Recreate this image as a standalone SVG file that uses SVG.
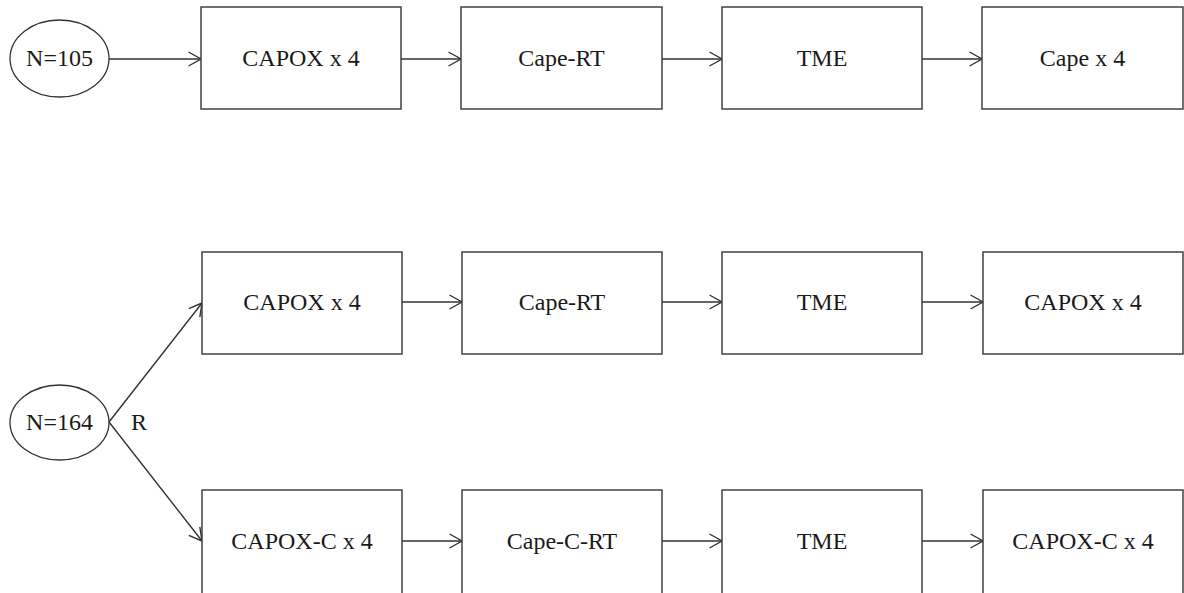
<svg xmlns="http://www.w3.org/2000/svg" width="1184" height="593" viewBox="0 0 1184 593">
<style>
.box{fill:#fff;stroke:#404040;stroke-width:1.5}
.ell{fill:#fff;stroke:#333;stroke-width:1.3}
.t{font-family:"Liberation Serif","Times New Roman",serif;font-size:24px;fill:#1a1a1a;text-anchor:middle}
.c{stroke:#333;stroke-width:1.4;fill:none;marker-end:url(#ah)}
</style>
<defs>
<marker id="ah" markerUnits="userSpaceOnUse" viewBox="0 0 14 16" refX="13" refY="8" markerWidth="14" markerHeight="16" orient="auto">
<path d="M0.5,1 L13,8 L0.5,15" fill="none" stroke="#333" stroke-width="1.4"/>
</marker>
</defs>
<rect width="1184" height="593" fill="#fff"/>
<g id="connectors">
<line class="c" x1="109" y1="59" x2="201" y2="59"/>
<line class="c" x1="401" y1="59" x2="461" y2="59"/>
<line class="c" x1="662" y1="59" x2="722" y2="59"/>
<line class="c" x1="922" y1="59" x2="982" y2="59"/>
<line class="c" x1="109" y1="422" x2="202" y2="303"/>
<line class="c" x1="109" y1="422" x2="202" y2="541"/>
<line class="c" x1="402" y1="302" x2="462" y2="302"/>
<line class="c" x1="662" y1="302" x2="722" y2="302"/>
<line class="c" x1="922" y1="302" x2="983" y2="302"/>
<line class="c" x1="402" y1="541" x2="462" y2="541"/>
<line class="c" x1="662" y1="541" x2="722" y2="541"/>
<line class="c" x1="922" y1="541" x2="983" y2="541"/>
<text class="t" x="139" y="430">R</text>
</g>
<g id="n105"><ellipse class="ell" cx="59.5" cy="58.5" rx="49.5" ry="38.5"/><text class="t" x="59.5" y="66">N=105</text></g>
<g id="a1"><rect class="box" x="201" y="7" width="200" height="102"/><text class="t" x="301" y="66">CAPOX x 4</text></g>
<g id="a2"><rect class="box" x="461" y="7" width="201" height="102"/><text class="t" x="561.5" y="66">Cape-RT</text></g>
<g id="a3"><rect class="box" x="722" y="7" width="200" height="102"/><text class="t" x="822" y="66">TME</text></g>
<g id="a4"><rect class="box" x="982" y="7" width="201" height="102"/><text class="t" x="1082.5" y="66">Cape x 4</text></g>
<g id="n164"><ellipse class="ell" cx="59.5" cy="422.5" rx="49.5" ry="37.5"/><text class="t" x="59.5" y="430">N=164</text></g>
<g id="b1"><rect class="box" x="202" y="252" width="200" height="102"/><text class="t" x="302" y="310">CAPOX x 4</text></g>
<g id="b2"><rect class="box" x="462" y="252" width="200" height="102"/><text class="t" x="562" y="310">Cape-RT</text></g>
<g id="b3"><rect class="box" x="722" y="252" width="200" height="102"/><text class="t" x="822" y="310">TME</text></g>
<g id="b4"><rect class="box" x="983" y="252" width="200" height="102"/><text class="t" x="1083" y="310">CAPOX x 4</text></g>
<g id="c1"><rect class="box" x="202" y="490" width="200" height="110"/><text class="t" x="302" y="549">CAPOX-C x 4</text></g>
<g id="c2"><rect class="box" x="462" y="490" width="200" height="110"/><text class="t" x="562" y="549">Cape-C-RT</text></g>
<g id="c3"><rect class="box" x="722" y="490" width="200" height="110"/><text class="t" x="822" y="549">TME</text></g>
<g id="c4"><rect class="box" x="983" y="490" width="200" height="110"/><text class="t" x="1083" y="549">CAPOX-C x 4</text></g>
</svg>
